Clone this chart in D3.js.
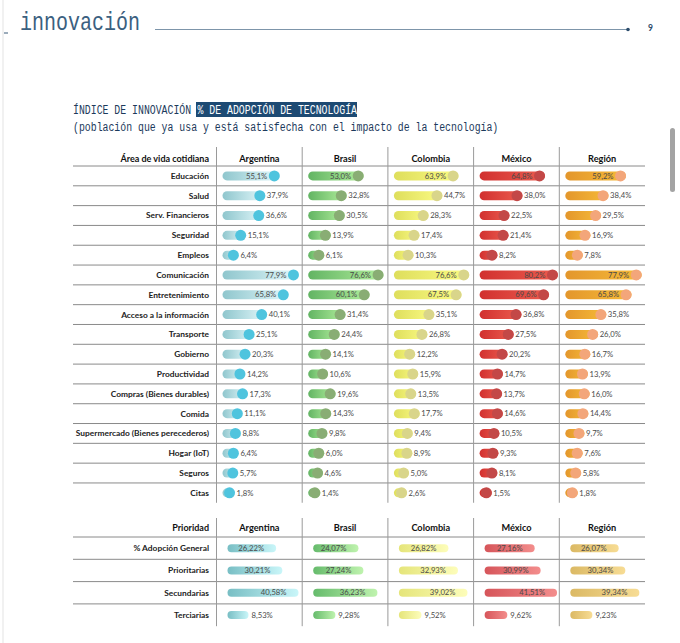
<!DOCTYPE html>
<html>
<head>
<meta charset="UTF-8">
<title>Índice de innovación</title>
<script src="https://cdn.jsdelivr.net/npm/d3@7"></script>
<style>
body { margin:0; background:#fff; }
</style>
</head>
<body>
<div id="chart"></div>
<script>

// --- data ---
var countries = ['Argentina', 'Brasil', 'Colombia', 'México', 'Región'];

var areas = ['Educación', 'Salud', 'Serv. Financieros', 'Seguridad', 'Empleos', 'Comunicación',
    'Entretenimiento', 'Acceso a la información', 'Transporte', 'Gobierno', 'Productividad',
    'Compras (Bienes durables)', 'Comida', 'Supermercado (Bienes perecederos)', 'Hogar (IoT)',
    'Seguros', 'Citas'];

var areaArgentina = [55.1, 37.9, 36.6, 15.1, 6.4, 77.9, 65.8, 40.1, 25.1, 20.3, 14.2, 17.3, 11.1, 8.8, 6.4, 5.7, 1.8];
var areaBrasil    = [53.0, 32.8, 30.5, 13.9, 6.1, 76.6, 60.1, 31.4, 24.4, 14.1, 10.6, 19.6, 14.3, 9.8, 6.0, 4.6, 1.4];
var areaColombia  = [63.9, 44.7, 28.3, 17.4, 10.3, 76.6, 67.5, 35.1, 26.8, 12.2, 15.9, 13.5, 17.7, 9.4, 8.9, 5.0, 2.6];
var areaMexico    = [64.8, 38.0, 22.5, 21.4, 8.2, 80.2, 69.6, 36.8, 27.5, 20.2, 14.7, 13.7, 14.6, 10.5, 9.3, 8.1, 1.5];
var areaRegion    = [59.2, 38.4, 29.5, 16.9, 7.8, 77.9, 65.8, 35.8, 26.0, 16.7, 13.9, 16.0, 14.4, 9.7, 7.6, 5.8, 1.8];

var priorities = ['% Adopción General', 'Prioritarias', 'Secundarias', 'Terciarias'];

var prioArgentina = [26.22, 30.21, 40.58, 8.53];
var prioBrasil    = [24.07, 27.24, 36.23, 9.28];
var prioColombia  = [26.82, 32.93, 39.02, 9.52];
var prioMexico    = [27.16, 30.99, 41.51, 9.62];
var prioRegion    = [26.07, 30.34, 39.34, 9.23];

var areaSeries = [areaArgentina, areaBrasil, areaColombia, areaMexico, areaRegion];
var prioSeries = [prioArgentina, prioBrasil, prioColombia, prioMexico, prioRegion];

// --- styles ---
var pillFrom   = ['#8fc6cd', '#62b463', '#dede5c', '#d1302f', '#e3962c'];
var pillTo     = ['#e3f8fb', '#b2ee9c', '#fbfb84', '#ec5d4f', '#f6bb38'];
var dotColor   = ['#4fc4de', '#89ad74', '#d9d58a', '#c34847', '#f3a67a'];
var prioFrom   = ['#78bec4', '#66bb6c', '#e5e57a', '#d6555a', '#dbb964'];
var prioTo     = ['#c9f6f9', '#bff3ae', '#fdfdba', '#f38d8c', '#f7dc94'];

var W = 680, H = 643;
var sans = 'Lato, "Noto Sans", sans-serif';
var mono = '"Liberation Mono", "DejaVu Sans Mono", monospace';

var fmt1 = function(v){ return d3.format('.1f')(v).replace('.', ',') + '%'; };
var fmt2 = function(v){ return d3.format('.2f')(v).replace('.', ',') + '%'; };

var svg = d3.select('#chart').append('svg')
    .attr('width', W)
    .attr('height', H)
    .style('display', 'block');

var defs = svg.append('defs');
function grad(id, c0, c1) {
    var g = defs.append('linearGradient').attr('id', id)
        .attr('x1', '0%').attr('x2', '100%').attr('y1', '0%').attr('y2', '0%');
    g.append('stop').attr('offset', '0%').attr('stop-color', c0);
    g.append('stop').attr('offset', '100%').attr('stop-color', c1);
}
countries.forEach(function(c, j){
    grad('pill' + j, pillFrom[j], pillTo[j]);
    grad('prio' + j, prioFrom[j], prioTo[j]);
});

// condensed monospace text: natural width fits, then stretched vertically
function monoText(x, y, size, stretch, fill, str) {
    return svg.append('text')
        .attr('transform', 'translate(' + x + ',' + y + ') scale(1,' + stretch + ')')
        .attr('font-family', mono).attr('font-size', size)
        .attr('fill', fill).text(str);
}

// page chrome
svg.append('line').attr('x1', 3).attr('x2', 3).attr('y1', 0).attr('y2', H)
    .attr('stroke', '#ececec').attr('stroke-width', 1.5);
svg.append('line').attr('x1', 4).attr('x2', 8).attr('y1', 33).attr('y2', 33)
    .attr('stroke', '#3a5a78').attr('stroke-width', 1);
monoText(20, 30, 20, 1.25, '#3b6080', 'innovación');
svg.append('line').attr('x1', 155).attr('x2', 628).attr('y1', 29.5).attr('y2', 29.5)
    .attr('stroke', '#7d95aa').attr('stroke-width', 1);
svg.append('circle').attr('cx', 628).attr('cy', 29.5).attr('r', 1.8).attr('fill', '#2b4c6b');
svg.append('text').attr('x', 648).attr('y', 31)
    .attr('font-family', sans).attr('font-weight', 700).attr('font-size', 8.5)
    .attr('fill', '#2b4c6b').text('9');
svg.append('rect').attr('x', 670).attr('y', 128).attr('width', 5).attr('height', 64)
    .attr('rx', 2.5).attr('fill', '#a3a3a3');

// title
svg.append('rect').attr('x', 196).attr('y', 102).attr('width', 161).attr('height', 15)
    .attr('fill', '#1d4a73');
monoText(73, 114, 9.85, 1.27, '#1c3a5c', 'ÍNDICE DE INNOVACIÓN');
monoText(197.5, 114, 9.85, 1.27, '#ffffff', '% DE ADOPCIÓN DE TECNOLOGÍA');
monoText(73, 131, 9.85, 1.27, '#1c3a5c', '(población que ya usa y está satisfecha con el impacto de la tecnología)');

// shared columns
var tableLeft = 73, tableRight = 645, labelRight = 209;
var xCol = d3.scaleBand().domain(countries).range([216.5, tableRight]);

function tableFrame(g, rowNames, yRow, topY, headerY, headerLabel) {
    var bottom = yRow.range()[1];
    // horizontal lines at top of each row
    g.selectAll('line.h').data(rowNames).enter().append('line')
        .attr('class', 'h')
        .attr('x1', tableLeft).attr('x2', tableRight)
        .attr('y1', function(d){ return yRow(d); })
        .attr('y2', function(d){ return yRow(d); })
        .attr('stroke', '#8a8a8a').attr('stroke-width', 1);
    // vertical separators
    g.selectAll('line.v').data(countries).enter().append('line')
        .attr('class', 'v')
        .attr('x1', function(d){ return xCol(d); })
        .attr('x2', function(d){ return xCol(d); })
        .attr('y1', topY).attr('y2', bottom)
        .attr('stroke', '#9a9a9a').attr('stroke-width', 1);
    // header
    g.append('text').attr('x', labelRight).attr('y', headerY)
        .attr('text-anchor', 'end')
        .attr('font-family', sans).attr('font-weight', 700).attr('font-size', 9)
        .attr('fill', '#111').text(headerLabel);
    g.selectAll('text.col').data(countries).enter().append('text')
        .attr('class', 'col')
        .attr('x', function(d){ return xCol(d) + xCol.bandwidth() / 2; })
        .attr('y', headerY)
        .attr('text-anchor', 'middle')
        .attr('font-family', sans).attr('font-weight', 700).attr('font-size', 9.2)
        .attr('fill', '#111').text(function(d){ return d; });
    // row labels
    g.selectAll('text.row').data(rowNames).enter().append('text')
        .attr('class', 'row')
        .attr('x', labelRight)
        .attr('y', function(d){ return yRow(d) + yRow.bandwidth() / 2; })
        .attr('dy', '0.35em')
        .attr('text-anchor', 'end')
        .attr('font-family', sans).attr('font-weight', 700).attr('font-size', 8.4)
        .attr('fill', '#222').text(function(d){ return d; });
}

// --- table 1 ---
var yArea = d3.scaleBand().domain(areas).range([166, 166 + areas.length * 19.81]);
var barLen = d3.scaleLinear().domain([0, 100]).range([0, 84]);
var R = 5.5, PH = 9;

var t1 = svg.append('g');
tableFrame(t1, areas, yArea, 147, 161.5, 'Área de vida cotidiana');

var cells1 = [];
areas.forEach(function(a, i){
    countries.forEach(function(c, j){
        cells1.push({area: a, country: c, j: j, value: areaSeries[j][i]});
    });
});

var cell1 = t1.selectAll('g.cell').data(cells1).enter().append('g')
    .attr('class', 'cell')
    .attr('transform', function(d){
        return 'translate(' + (xCol(d.country) + 6) + ',' + (yArea(d.area) + yArea.bandwidth() / 2) + ')';
    });

cell1.append('rect')
    .attr('x', 0).attr('y', -PH / 2)
    .attr('height', PH).attr('rx', PH / 2)
    .attr('width', function(d){ return 2 * R + barLen(d.value); })
    .attr('fill', function(d){ return 'url(#pill' + d.j + ')'; });

cell1.append('circle')
    .attr('cx', function(d){ return R + barLen(d.value); })
    .attr('cy', 0).attr('r', R)
    .attr('fill', function(d){ return dotColor[d.j]; });

cell1.append('text')
    .attr('x', function(d){ return d.value >= 50 ? barLen(d.value) - 1.5 : 2 * R + barLen(d.value) + 1.5; })
    .attr('y', 0).attr('dy', '0.35em')
    .attr('text-anchor', function(d){ return d.value >= 50 ? 'end' : 'start'; })
    .attr('font-family', sans).attr('font-size', 7.7)
    .attr('fill', '#4a4a4a')
    .text(function(d){ return fmt1(d.value); });

// --- table 2 ---
var yPrio = d3.scaleBand().domain(priorities).range([537, 537 + priorities.length * 22.3]);
var prioLen = d3.scaleLinear().domain([0, 100]).range([0, 156]);
var PH2 = 8;

var t2 = svg.append('g');
tableFrame(t2, priorities, yPrio, 518, 530.5, 'Prioridad');

var cells2 = [];
priorities.forEach(function(p, i){
    countries.forEach(function(c, j){
        cells2.push({prio: p, country: c, j: j, value: prioSeries[j][i]});
    });
});

var cell2 = t2.selectAll('g.cell').data(cells2).enter().append('g')
    .attr('class', 'cell')
    .attr('transform', function(d){
        return 'translate(' + (xCol(d.country) + 11) + ',' + (yPrio(d.prio) + yPrio.bandwidth() / 2) + ')';
    });

cell2.append('rect')
    .attr('x', 0).attr('y', -PH2 / 2)
    .attr('height', PH2).attr('rx', PH2 / 2)
    .attr('width', function(d){ return 7.7 + prioLen(d.value); })
    .attr('fill', function(d){ return 'url(#prio' + d.j + ')'; });

cell2.append('text')
    .attr('x', function(d){ return d.value >= 20 ? 7.7 + prioLen(d.value) - 12 : 7.7 + prioLen(d.value) + 3; })
    .attr('y', 0).attr('dy', '0.35em')
    .attr('text-anchor', function(d){ return d.value >= 20 ? 'end' : 'start'; })
    .attr('font-family', sans).attr('font-size', 7.7)
    .attr('fill', '#4a4a4a')
    .text(function(d){ return fmt2(d.value); });

</script>
</body>
</html>
